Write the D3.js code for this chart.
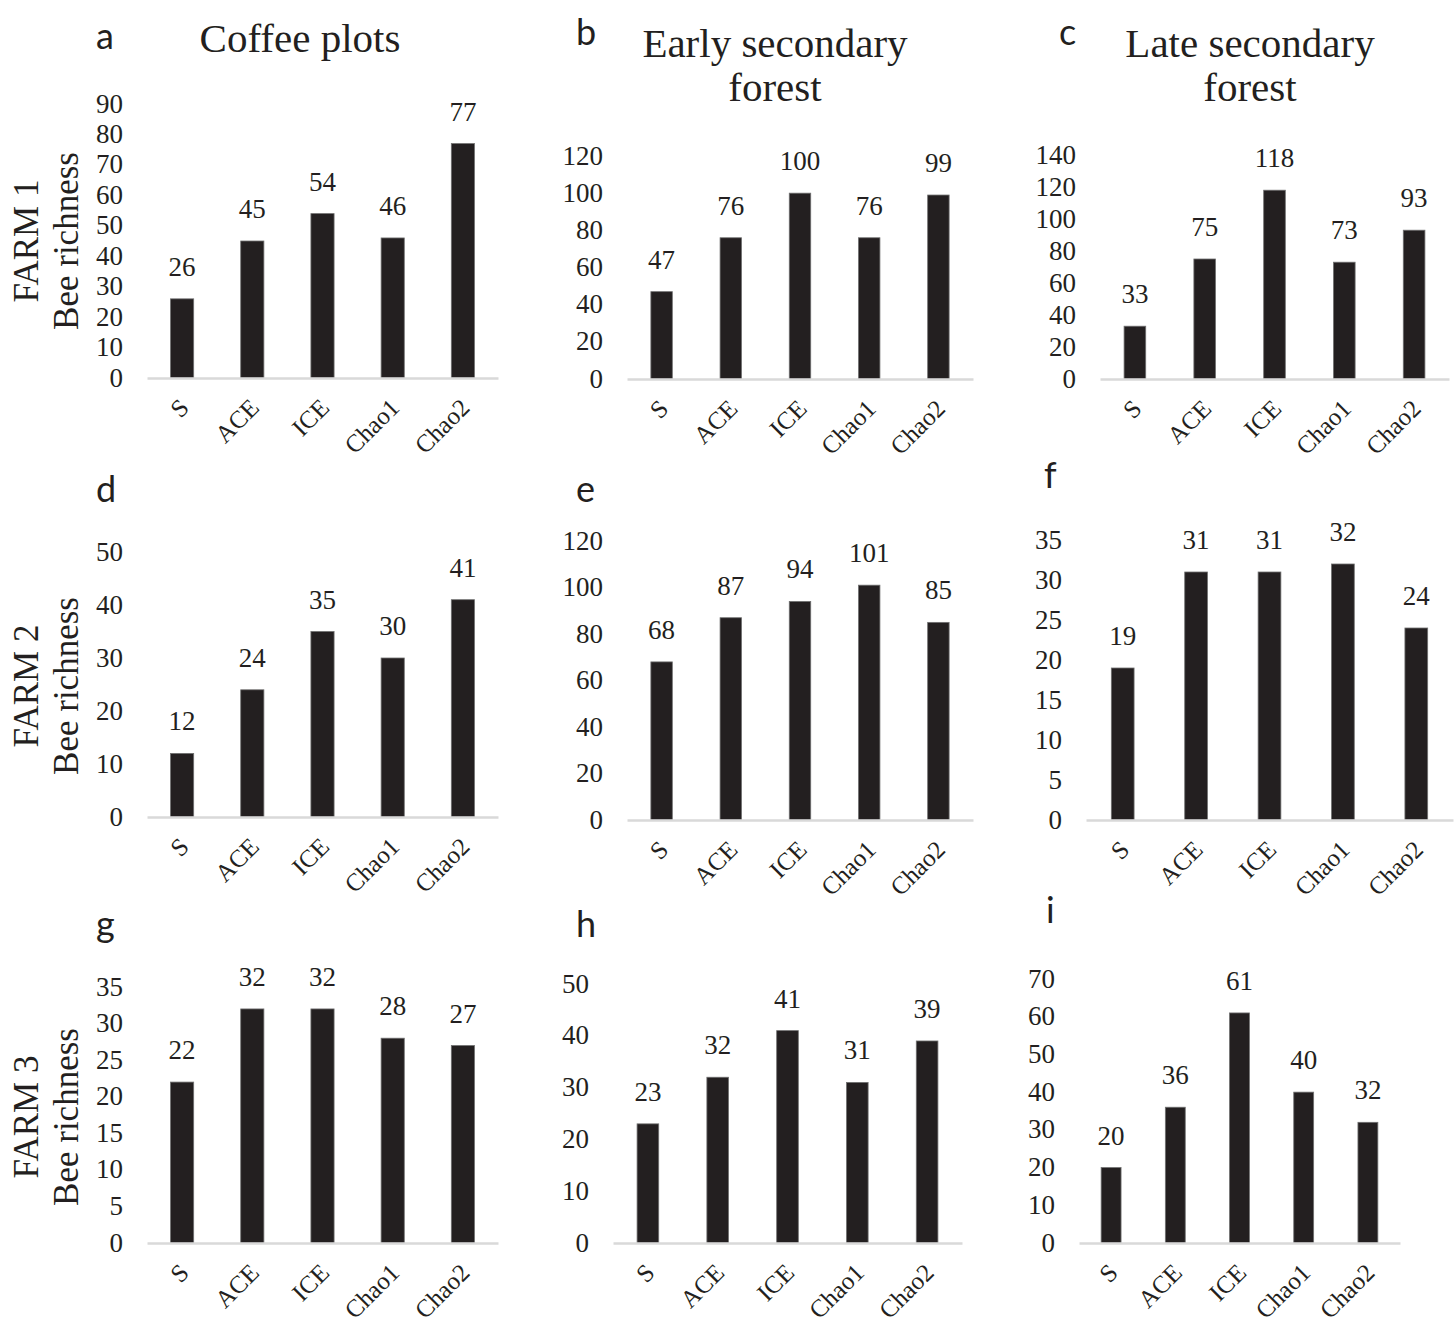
<!DOCTYPE html>
<html>
<head>
  <meta charset="utf-8">
  <title>Bee richness estimators</title>
  <style>
    html, body {
      margin: 0;
      padding: 0;
      background: #fff;
    }
    svg {
      display: block;
    }
    .serif {
      font-family: "Liberation Serif", "Times New Roman", serif;
      fill: #231f20;
    }
    .letter {
      font-family: Lato, "Open Sans", sans-serif;
      font-size: 36px;
      fill: #231f20;
    }
    .bar {
      fill: #231f20;
      stroke: #707070;
      stroke-width: 0.8;
    }
  </style>
</head>
<body>
  <svg id="chart" width="1455" height="1327"></svg>

  <script src="https://d3js.org/d3.v7.min.js"></script>
  <script>
    // data
    const categories = ["S", "ACE", "ICE", "Chao1", "Chao2"];

    const farm1Coffee = [26, 45, 54, 46, 77];
    const farm1Early  = [47, 76, 100, 76, 99];
    const farm1Late   = [33, 75, 118, 73, 93];
    const farm2Coffee = [12, 24, 35, 30, 41];
    const farm2Early  = [68, 87, 94, 101, 85];
    const farm2Late   = [19, 31, 31, 32, 24];
    const farm3Coffee = [22, 32, 32, 28, 27];
    const farm3Early  = [23, 32, 41, 31, 39];
    const farm3Late   = [20, 36, 61, 40, 32];

    const axisMax  = [90, 120, 140, 50, 120, 35, 35, 50, 70];
    const axisStep = [10, 20, 20, 10, 20, 5, 5, 10, 10];

    const panelLetters = ["a", "b", "c", "d", "e", "f", "g", "h", "i"];
    const habitatTitles = [["Coffee plots"], ["Early secondary", "forest"], ["Late secondary", "forest"]];
    const farmNames = ["FARM 1", "FARM 2", "FARM 3"];
    const yTitle = "Bee richness";

    const series = [farm1Coffee, farm1Early, farm1Late,
                    farm2Coffee, farm2Early, farm2Late,
                    farm3Coffee, farm3Early, farm3Late];

    // where each panel sits (x0/x1 = axis line, base = zero line, top = max tick)
    const layout = [
      {x0: 147, x1: 498, base: 378, top: 104, pad: 0.67, lx: 96,   ly: 49},
      {x0: 627, x1: 973, base: 379, top: 156, pad: 0.69, lx: 576,  ly: 45},
      {x0: 1100, x1: 1449, base: 379, top: 155, pad: 0.69, lx: 1059, ly: 45},
      {x0: 147, x1: 498, base: 817, top: 552, pad: 0.67, lx: 96,   ly: 502},
      {x0: 627, x1: 973, base: 820, top: 541, pad: 0.69, lx: 576,  ly: 502},
      {x0: 1086, x1: 1453, base: 820, top: 540, pad: 0.69, lx: 1044, ly: 488},
      {x0: 147, x1: 498, base: 1243, top: 987, pad: 0.67, lx: 96,  ly: 937},
      {x0: 613, x1: 962, base: 1243, top: 984, pad: 0.69, lx: 576,  ly: 937},
      {x0: 1079, x1: 1400, base: 1243, top: 979, pad: 0.69, lx: 1046, ly: 923}
    ];
    const titleX = [300, 775, 1250];
    const rowCenters = [241, 686, 1117];

    const svg = d3.select("#chart");
    svg.append("rect").attr("width", 1455).attr("height", 1327).attr("fill", "#fff");

    series.forEach((values, i) => {
      const L = layout[i];
      const g = svg.append("g");

      const x = d3.scaleBand()
        .domain(categories)
        .range([L.x0, L.x1])
        .paddingInner(L.pad)
        .paddingOuter(L.pad / 2);
      const y = d3.scaleLinear()
        .domain([0, axisMax[i]])
        .range([L.base, L.top]);

      // y tick labels only
      const yAxis = g.append("g")
        .attr("transform", `translate(${L.x0},0)`)
        .call(d3.axisLeft(y)
          .tickValues(d3.range(0, axisMax[i] + 0.001, axisStep[i]))
          .tickSize(0)
          .tickPadding(24));
      yAxis.select(".domain").remove();
      yAxis.selectAll("text")
        .attr("class", "serif")
        .attr("font-size", 27)
        .attr("dy", "0.3em");

      // bars
      g.selectAll("rect.bar")
        .data(values)
        .enter()
        .append("rect")
        .attr("class", "bar")
        .attr("x", (d, j) => x(categories[j]))
        .attr("width", x.bandwidth())
        .attr("y", d => y(d))
        .attr("height", d => L.base - y(d));

      // value labels
      g.selectAll("text.val")
        .data(values)
        .enter()
        .append("text")
        .attr("class", "serif val")
        .attr("font-size", 27)
        .attr("text-anchor", "middle")
        .attr("x", (d, j) => x(categories[j]) + x.bandwidth() / 2)
        .attr("y", d => y(d) - 23)
        .text(d => d);

      // x axis: gray line + rotated category labels
      const xAxis = g.append("g")
        .attr("transform", `translate(0,${L.base})`)
        .call(d3.axisBottom(x).tickSize(0).tickSizeOuter(0));
      xAxis.select(".domain")
        .attr("stroke", "#d9d9d9")
        .attr("stroke-width", 2.5);
      xAxis.selectAll("text")
        .attr("class", "serif")
        .attr("font-size", 25)
        .attr("y", null)
        .attr("dy", "0.35em")
        .attr("text-anchor", "end")
        .attr("transform", "translate(2,25) rotate(-45)");

      // panel letter
      svg.append("text")
        .attr("class", "letter")
        .attr("x", L.lx)
        .attr("y", L.ly)
        .text(panelLetters[i]);
    });

    // habitat titles on top row
    habitatTitles.forEach((lines, c) => {
      const t = svg.append("text")
        .attr("class", "serif")
        .attr("font-size", 41)
        .attr("text-anchor", "middle");
      lines.forEach((line, k) => {
        t.append("tspan")
          .attr("x", titleX[c])
          .attr("y", (lines.length === 1 ? 52 : 57) + k * 44)
          .text(line);
      });
    });

    // farm / y titles on the left
    farmNames.forEach((name, r) => {
      const t = svg.append("text")
        .attr("class", "serif")
        .attr("font-size", 35)
        .attr("text-anchor", "middle")
        .attr("transform", `translate(0,${rowCenters[r]}) rotate(-90)`);
      t.append("tspan").attr("x", 0).attr("y", 38).text(name);
      t.append("tspan").attr("x", 0).attr("y", 78).text(yTitle);
    });
  </script>
</body>
</html>
